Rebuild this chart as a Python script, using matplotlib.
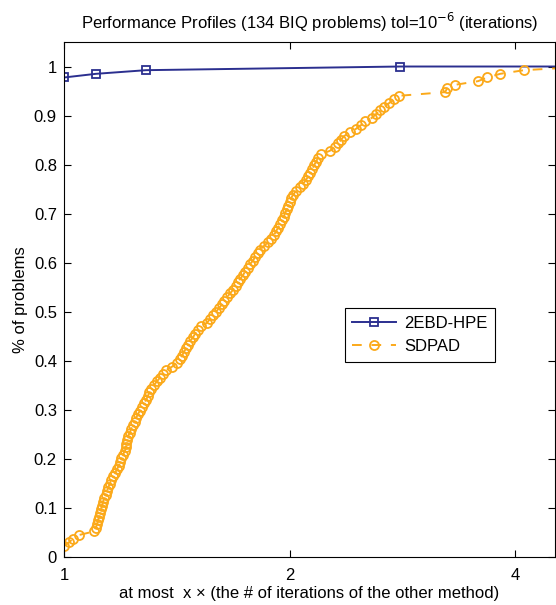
import numpy as np
import matplotlib
matplotlib.use("Agg")
import matplotlib.pyplot as plt
from matplotlib.ticker import FixedLocator, NullLocator

plt.rcParams['font.family'] = ['Liberation Sans', 'DejaVu Sans']

n_prob = 134

# performance ratios (one per problem level k/134)
hpe_ratio = [1.0, 1.103, 1.287, 2.81, 5.0]
hpe_count = [131, 132, 133, 134, 134]

sdpad_ratio = [
    1.0, 1.016, 1.028, 1.047, 1.097, 1.103, 1.107, 1.110, 1.114, 1.117,
    1.120, 1.124, 1.127, 1.131, 1.138, 1.141, 1.145, 1.152, 1.155, 1.163,
    1.170, 1.177, 1.184, 1.188, 1.192, 1.199, 1.206, 1.210, 1.210, 1.214,
    1.217, 1.225, 1.229, 1.236, 1.244, 1.248, 1.255, 1.263, 1.271, 1.279,
    1.287, 1.295, 1.299, 1.307, 1.319, 1.331, 1.343, 1.356, 1.368, 1.394,
    1.415, 1.428, 1.437, 1.446, 1.455, 1.464, 1.473, 1.487, 1.496, 1.510,
    1.524, 1.552, 1.566, 1.581, 1.596, 1.610, 1.625, 1.635, 1.650, 1.666,
    1.681, 1.697, 1.707, 1.718, 1.734, 1.744, 1.760, 1.771, 1.788, 1.799,
    1.816, 1.827, 1.849, 1.872, 1.889, 1.907, 1.919, 1.931, 1.942, 1.954,
    1.966, 1.972, 1.985, 1.991, 2.003, 2.009, 2.022, 2.040, 2.065, 2.085,
    2.104, 2.117, 2.130, 2.143, 2.156, 2.170, 2.183, 2.203, 2.265, 2.300,
    2.322, 2.343, 2.365, 2.409, 2.454, 2.492, 2.522, 2.577, 2.609, 2.641,
    2.674, 2.716, 2.758, 2.800, 3.226, 3.245, 3.326, 3.570, 3.670, 3.820,
    4.112, 5.0,
]
sdpad_count = list(range(3, 3 + len(sdpad_ratio)))

blue = '#2b2f8f'
orange = '#fba91a'
fs = 12

fig = plt.figure(figsize=(5.56, 6.05), dpi=100)
ax = fig.add_axes([0.115, 0.0793, 0.883, 0.8513])

ax.plot(hpe_ratio, np.array(hpe_count) / n_prob, '-', color=blue, lw=1.4,
        marker='s', ms=5.5, mfc='none', mec=blue, mew=1.3, label='2EBD-HPE')
ax.plot(sdpad_ratio, np.array(sdpad_count) / n_prob, '--', color=orange, lw=1.4,
        dashes=(5, 5), marker='o', ms=6.5, mfc='none', mec=orange, mew=1.3,
        label='SDPAD')

ax.set_xscale('log', base=2)
ax.set_xlim(1, 4.52)
ax.set_ylim(0, 1.05)
ax.xaxis.set_major_locator(FixedLocator([1, 2, 4]))
ax.xaxis.set_minor_locator(NullLocator())
ax.set_xticklabels(['1', '2', '4'])
ax.set_yticks(np.arange(0, 1.01, 0.1))
ax.set_yticklabels(['0'] + ['%.1f' % v for v in np.arange(0.1, 0.95, 0.1)] + ['1'])
ax.tick_params(direction='in', top=True, right=True, labelsize=fs, length=5)
ax.tick_params(axis='x', pad=8)
ax.tick_params(axis='y', pad=5)

ax.set_title(r'Performance Profiles (134 BIQ problems) tol=10$^{-6}$ (iterations)',
             fontsize=fs, pad=9)
ax.set_xlabel('at most  x \u00d7 (the # of iterations of the other method)', fontsize=fs,
              labelpad=2)
ax.set_ylabel('% of problems', fontsize=fs, labelpad=4)

leg = ax.legend(loc='upper left', bbox_to_anchor=(0.572, 0.483), fontsize=fs,
                fancybox=False, edgecolor='black', framealpha=1, handlelength=2.6,
                borderpad=0.45, labelspacing=0.5, handletextpad=0.5, borderaxespad=0)
leg.get_frame().set_linewidth(0.8)

fig.savefig('out.png', dpi=100)
